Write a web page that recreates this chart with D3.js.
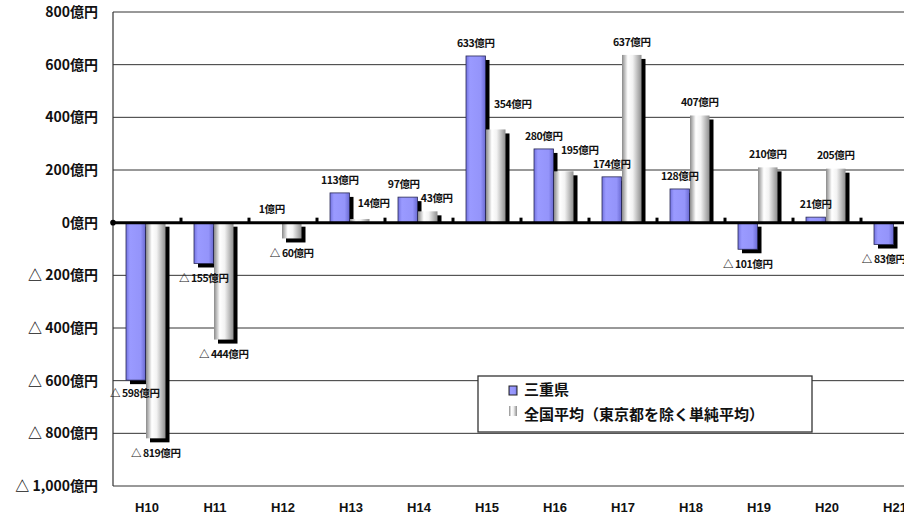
<!DOCTYPE html>
<html>
<head>
<meta charset="utf-8">
<script src="https://cdn.jsdelivr.net/npm/d3@7"></script>
<style>
  body { margin: 0; background: #fff; }
  svg { display: block; font-family: "Noto Sans CJK JP", sans-serif; }
</style>
</head>
<body>
<svg id="chart"></svg>
<script>
// data (億円)
const years = ['H10', 'H11', 'H12', 'H13', 'H14', 'H15', 'H16', 'H17', 'H18', 'H19', 'H20', 'H21'];
const mie = [-598, -155, 1, 113, 97, 633, 280, 174, 128, -101, 21, -83];
const national = [-819, -444, -60, 14, 43, 354, 195, 637, 407, 210, 205, null];
const yTicks = [800, 600, 400, 200, 0, -200, -400, -600, -800, -1000];
const seriesNames = ['三重県', '全国平均（東京都を除く単純平均）'];

const W = 904, H = 521;
const svg = d3.select('#chart').attr('width', W).attr('height', H);

// plot runs past the right edge, like the original crop
const x = d3.scaleBand().domain(years).range([113, 113 + 68 * years.length]);
const y = d3.scaleLinear().domain([-1000, 800]).range([486, 12]);

const defs = svg.append('defs');
const gGrey = defs.append('linearGradient').attr('id', 'grey');
[['0%', '#8a8a8a'], ['30%', '#ffffff'], ['55%', '#f2f2f2'], ['100%', '#8e8e8e']]
  .forEach(s => gGrey.append('stop').attr('offset', s[0]).attr('stop-color', s[1]));
const gBlue = defs.append('linearGradient').attr('id', 'blue');
[['0%', '#7373e0'], ['20%', '#9a9aff'], ['75%', '#9494fa'], ['100%', '#6a6ad2']]
  .forEach(s => gBlue.append('stop').attr('offset', s[0]).attr('stop-color', s[1]));

// gridlines
svg.append('g')
  .selectAll('line')
  .data(yTicks.filter(d => d !== 0))
  .join('line')
  .attr('x1', 113).attr('x2', W)
  .attr('y1', d => y(d)).attr('y2', d => y(d))
  .attr('stroke', '#333').attr('stroke-width', 1);

// y axis
svg.append('line')
  .attr('x1', 113).attr('x2', 113)
  .attr('y1', y(800)).attr('y2', y(-1000))
  .attr('stroke', '#333').attr('stroke-width', 1.2);

svg.append('g')
  .selectAll('text')
  .data(yTicks)
  .join('text')
  .attr('x', 98)
  .attr('y', d => y(d))
  .attr('dy', '0.36em')
  .attr('text-anchor', 'end')
  .attr('font-size', 14)
  .attr('font-weight', 700)
  .attr('fill', '#111')
  .text(d => d < 0 ? '△ ' + d3.format(',')(-d) + '億円' : d + '億円');

// bars
const barW = 19.5, offBlue = 13, offGrey = 33, sh = 4;
const series = [
  { vals: mie, off: offBlue, fill: 'url(#blue)', stroke: '#2a2a55' },
  { vals: national, off: offGrey, fill: 'url(#grey)', stroke: 'none' }
];

series.forEach((s, si) => {
  const rows = years.map((k, i) => ({ k, v: s.vals[i] })).filter(d => d.v != null);
  const g = svg.append('g');
  // drop shadow: below-right, never crossing under the zero line for positive bars
  g.selectAll('rect.shadow')
    .data(rows)
    .join('rect')
    .attr('class', 'shadow')
    .attr('x', d => x(d.k) + s.off + sh)
    .attr('y', d => d.v >= 0 ? y(d.v) + sh : y(0) + sh)
    .attr('width', barW)
    .attr('height', d => d.v >= 0 ? Math.max(0, y(0) - y(d.v) - sh) : y(d.v) - y(0))
    .attr('fill', '#000');
  g.selectAll('rect.bar')
    .data(rows)
    .join('rect')
    .attr('class', 'bar')
    .attr('x', d => x(d.k) + s.off)
    .attr('y', d => Math.min(y(d.v), y(0)))
    .attr('width', barW)
    .attr('height', d => Math.abs(y(d.v) - y(0)))
    .attr('fill', s.fill)
    .attr('stroke', s.stroke)
    .attr('stroke-width', 0.8);
});

// zero axis with small ticks at category boundaries
svg.append('line')
  .attr('x1', 113).attr('x2', W)
  .attr('y1', y(0)).attr('y2', y(0))
  .attr('stroke', '#000').attr('stroke-width', 3);
svg.append('circle').attr('cx', 113).attr('cy', y(0)).attr('r', 2.8).attr('fill', '#000');
svg.append('g')
  .selectAll('rect')
  .data(years.slice(1))
  .join('rect')
  .attr('x', d => x(d) - 1.5)
  .attr('y', y(0) - 5)
  .attr('width', 3)
  .attr('height', 5)
  .attr('fill', '#000');

// value labels (a few were moved by hand in the original)
const nudge = {
  '0-0': [-1, -2], '0-4': [-4, 0],
  '1-3': [14, -3], '1-4': [9, 0], '1-5': [17, -12], '1-6': [16, -8]
};
series.forEach((s, si) => {
  const rows = years.map((k, i) => ({ k, i, v: s.vals[i] })).filter(d => d.v != null);
  svg.append('g')
    .selectAll('text')
    .data(rows)
    .join('text')
    .attr('x', d => x(d.k) + s.off + barW / 2 + (nudge[si + '-' + d.i] || [0, 0])[0])
    .attr('y', d => (d.v >= 0 ? y(d.v) - 13 : y(d.v) + 15) + (nudge[si + '-' + d.i] || [0, 0])[1])
    .attr('dy', '0.36em')
    .attr('text-anchor', 'middle')
    .attr('font-size', 10.5)
    .attr('font-weight', 700)
    .attr('letter-spacing', -0.4)
    .attr('fill', '#111')
    .text(d => d.v < 0 ? '△ ' + (-d.v) + '億円' : d.v + '億円');
});

// category labels
svg.append('g')
  .selectAll('text')
  .data(years)
  .join('text')
  .attr('x', d => x(d) + x.bandwidth() / 2)
  .attr('y', 512)
  .attr('text-anchor', 'middle')
  .attr('font-family', '"Liberation Sans Narrow", "Liberation Sans", sans-serif')
  .attr('font-size', 13)
  .attr('font-weight', 700)
  .attr('fill', '#111')
  .text(d => d);

// legend
const lg = svg.append('g');
lg.append('rect')
  .attr('x', 478).attr('y', 376).attr('width', 334).attr('height', 56)
  .attr('fill', '#fff').attr('stroke', '#333').attr('stroke-width', 1.3);
lg.append('rect')
  .attr('x', 509).attr('y', 386).attr('width', 8).attr('height', 9)
  .attr('fill', 'url(#blue)').attr('stroke', '#222').attr('stroke-width', 1);
lg.append('rect')
  .attr('x', 509).attr('y', 406).attr('width', 8).attr('height', 10)
  .attr('fill', 'url(#grey)');
lg.selectAll('text')
  .data(seriesNames)
  .join('text')
  .attr('x', 524)
  .attr('y', (d, i) => 390 + i * 25)
  .attr('dy', '0.36em')
  .attr('font-size', 15)
  .attr('font-weight', 700)
  .attr('fill', '#111')
  .text(d => d);
</script>
</body>
</html>
